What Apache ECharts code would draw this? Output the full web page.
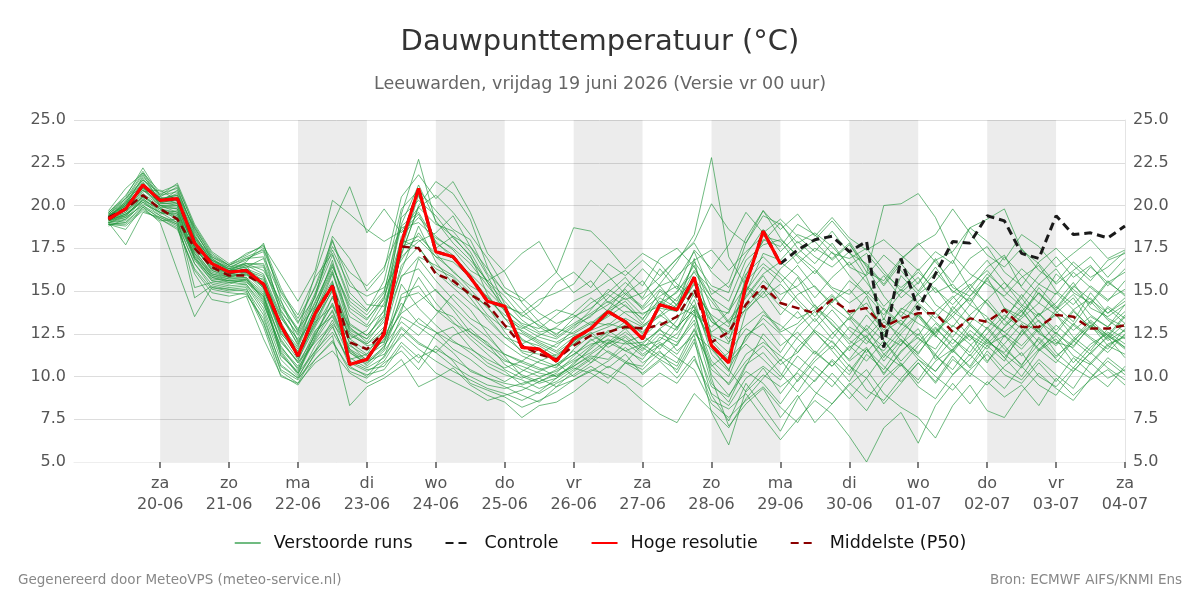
<!DOCTYPE html>
<html>
<head>
<meta charset="utf-8">
<script src="https://cdn.jsdelivr.net/npm/echarts@6/dist/echarts.min.js"></script>
<style>html,body{margin:0;padding:0;background:#fff}#c{width:1200px;height:600px}</style>
</head>
<body>
<div id="c"></div>
<script>
// Tick labels
const dayNames = ['za','zo','ma','di','wo','do','vr','za','zo','ma','di','wo','do','vr','za'];
const dateLabels = ['20-06','21-06','22-06','23-06','24-06','25-06','26-06','27-06','28-06','29-06','30-06','01-07','02-07','03-07','04-07'];

// Forecast steps: every 6 h from 19-06 06:00 (hours relative to 20-06 00:00)
const hours = [];
for (let i = 0; i < 60; i++) hours.push(-18 + 6 * i);

// Hoge resolutie (ends 29-06 00:00)
const hres = [19.2,19.8,21.2,20.3,20.4,17.8,16.6,16.1,16.2,15.4,13.0,11.2,13.7,15.3,10.7,11.0,12.5,17.8,21.0,17.3,17.0,15.8,14.4,14.1,11.7,11.6,10.9,12.2,12.8,13.8,13.2,12.2,14.2,13.9,15.8,11.8,10.8,15.4,18.5,16.6];
// Controle
const control = [19.2,19.8,21.2,20.3,20.4,17.8,16.6,16.1,16.2,15.4,13.0,11.2,13.7,15.3,10.7,11.0,12.5,17.8,21.0,17.3,17.0,15.8,14.4,14.1,11.7,11.6,10.9,12.2,12.8,13.8,13.2,12.2,14.2,13.9,15.8,11.8,10.8,15.4,18.5,16.6,17.4,18.0,18.2,17.3,17.9,11.7,16.9,13.9,16.0,17.9,17.8,19.4,19.1,17.2,16.9,19.4,18.3,18.4,18.1,18.8];
// Middelste (P50)
const p50 = [19.3,19.8,20.6,19.8,19.2,17.5,16.4,15.9,15.9,15.4,13.0,11.2,13.7,15.3,12.0,11.6,12.6,17.6,17.5,16.0,15.6,14.8,14.2,13.0,11.8,11.3,11.0,11.8,12.4,12.6,12.9,12.8,13.0,13.5,15.1,12.0,12.6,14.2,15.3,14.3,14.0,13.7,14.5,13.8,14.0,12.9,13.4,13.7,13.7,12.6,13.4,13.2,13.9,12.9,12.9,13.6,13.5,12.8,12.8,13.0];

// Verstoorde runs (ensemble members)
const m01 = [19.5,20.3,21.8,20.2,20.9,18.5,16.9,16.2,16.7,17.8,14.5,12.0,14.0,16.8,13.0,12.4,13.5,19.5,22.7,19.0,18.2,17.0,15.5,13.8,12.6,12.0,11.5,12.3,12.9,13.5,14.2,13.1,14.6,14.0,16.9,12.4,11.9,15.9,18.0,17.6,18.9,18.3,17.2,16.9,17.5,16.2,15.0,16.3,14.9,15.4,14.2,15.8,14.0,13.5,15.2,14.1,13.2,14.9,13.7,14.4];
const m02 = [19.0,17.7,19.6,19.3,18.8,16.0,14.5,14.3,14.7,12.2,10.1,9.5,11.0,12.1,10.3,9.9,10.8,11.5,10.4,11.8,10.9,9.6,9.2,8.8,8.2,8.6,9.1,9.8,10.3,10.9,11.7,10.8,11.5,10.2,12.0,9.4,8.8,10.7,11.4,10.2,9.1,10.6,9.8,8.7,9.9,8.4,9.6,10.8,9.7,11.2,10.0,11.5,10.4,9.8,11.0,10.1,9.3,10.8,9.9,10.4];
const m03 = [19.3,19.9,21.0,20.5,20.1,17.9,16.5,16.0,16.3,15.6,13.2,11.4,13.9,15.6,11.0,11.3,12.8,17.4,20.6,17.8,17.1,15.9,14.6,13.9,12.1,11.8,11.2,12.0,12.9,13.8,13.3,12.5,14.0,13.8,15.5,12.3,11.4,14.9,17.2,16.8,17.9,17.0,16.4,17.3,15.8,13.3,15.9,14.8,15.6,16.8,15.1,16.4,17.1,15.2,14.3,16.0,15.1,14.2,15.5,16.1];
const m04 = [19.1,19.5,20.2,19.6,19.0,17.0,15.8,15.5,15.4,14.2,11.8,10.4,12.5,13.8,11.4,10.8,11.6,14.8,15.3,13.9,13.1,12.6,12.0,11.0,10.4,10.0,10.3,10.9,11.4,12.2,11.5,11.0,12.3,11.8,13.6,10.9,10.0,12.4,13.1,11.8,12.6,11.4,10.6,11.7,12.4,10.9,12.1,11.2,10.3,11.6,12.4,11.8,10.9,12.7,11.5,12.2,10.8,11.9,12.5,11.7];
const m05 = [19.6,20.5,22.2,20.6,21.3,18.9,17.3,16.6,17.1,17.7,15.2,13.2,14.6,18.2,16.9,15.0,16.2,20.5,21.8,20.4,21.4,19.6,17.2,16.1,14.3,13.2,12.4,13.4,14.3,14.9,15.8,14.5,15.3,15.7,17.3,14.8,15.5,18.1,19.7,18.6,19.5,18.2,19.3,18.1,17.4,18.0,17.1,16.2,17.3,16.6,18.7,17.9,16.8,18.3,17.6,16.4,17.2,18.0,16.9,17.4];
const m06 = [18.9,18.6,19.9,19.0,16.2,13.5,15.2,15.0,15.1,13.6,10.6,9.9,11.8,13.0,10.6,10.0,11.2,13.5,12.9,12.2,11.4,10.3,9.9,9.4,8.9,8.5,9.4,10.3,11.0,11.9,12.4,11.6,12.8,11.5,12.4,8.9,7.4,9.6,8.2,6.8,8.7,9.8,10.9,9.7,11.3,10.4,11.9,12.8,11.0,12.2,11.4,12.9,11.8,10.6,12.3,11.2,12.0,13.2,12.1,12.7];
const m07 = [19.4,20.1,21.4,20.0,19.8,17.6,16.8,16.4,16.6,16.2,14.4,12.6,16.0,18.9,21.1,18.4,19.8,18.4,19.5,17.5,18.2,17.6,16.3,14.9,14.4,15.2,16.1,14.9,15.6,14.3,15.1,13.9,14.7,15.3,14.0,12.6,13.3,14.6,15.9,14.4,15.8,14.1,13.3,12.2,13.6,12.4,14.0,13.5,12.3,14.1,13.0,12.1,13.4,14.6,13.2,12.5,13.8,12.9,14.0,13.1];
const m08 = [19.2,19.6,20.8,20.9,20.3,18.2,16.7,16.3,16.5,15.1,12.4,11.0,12.9,14.6,12.9,12.0,13.4,16.2,18.8,16.7,15.4,14.8,14.1,12.6,11.4,11.0,10.6,11.3,12.1,12.6,13.0,12.3,13.2,12.7,14.5,11.3,10.3,13.8,15.0,13.6,14.8,15.3,14.1,13.3,14.7,12.4,11.8,13.6,12.6,13.9,15.1,14.3,13.0,14.1,12.8,13.7,14.6,13.1,12.4,13.6];
const m09 = [18.8,19.2,20.1,19.6,19.3,16.8,15.6,15.5,15.6,14.6,12.1,10.8,12.0,13.1,11.8,11.2,11.9,15.4,14.0,13.0,12.1,11.4,10.6,10.1,9.8,9.3,9.7,10.4,11.1,10.5,11.3,10.1,10.9,9.9,11.2,8.6,8.1,9.0,7.6,6.3,7.5,8.6,7.8,6.5,5.0,7.0,7.9,6.1,8.3,9.6,8.4,9.7,8.8,9.5,8.3,9.9,8.9,9.8,10.4,9.5];
const m10 = [19.7,21.0,21.9,20.4,20.6,18.7,17.0,16.5,17.2,17.6,16.0,14.4,16.2,20.3,19.5,18.6,17.9,18.5,19.9,20.6,19.6,18.3,16.9,15.2,14.6,13.7,13.1,13.5,14.0,14.8,14.1,13.4,14.3,14.9,16.5,14.0,13.7,16.3,17.9,19.0,17.5,16.6,17.8,16.4,15.9,17.1,16.2,15.0,16.4,14.9,15.7,16.8,15.5,14.6,15.9,17.0,15.8,16.5,15.3,16.3];
const m11 = [19.0,19.4,20.3,19.5,19.7,17.3,16.1,15.8,16.0,15.0,12.8,11.6,13.2,14.1,12.5,11.8,12.0,13.8,16.9,15.6,14.5,13.4,12.8,11.9,11.2,10.8,10.5,11.6,12.4,11.9,12.6,11.8,12.1,13.3,15.1,13.5,12.0,13.0,13.8,12.6,13.1,14.2,13.0,12.1,11.4,12.6,13.3,12.2,11.6,13.0,12.1,13.4,12.6,11.8,12.9,13.6,12.3,11.5,12.8,12.2];
const m12 = [19.3,20.0,21.0,20.0,19.6,17.7,16.3,16.0,15.9,15.7,13.4,12.2,14.4,16.5,14.0,13.3,14.7,18.0,17.5,16.3,15.8,14.6,13.3,12.3,11.9,12.4,12.9,13.7,14.6,13.8,14.4,13.3,15.0,14.2,16.2,15.1,14.4,16.8,17.7,18.0,17.1,16.3,15.2,14.8,16.0,20.0,20.1,20.7,19.3,17.1,16.0,15.4,14.7,15.8,16.5,15.0,14.2,15.3,14.5,15.1];
const m13 = [19.5,19.7,20.5,19.9,19.1,17.2,15.9,15.6,15.7,14.8,11.2,10.3,12.3,14.7,11.9,10.9,11.3,12.3,13.4,12.6,12.0,11.6,11.0,10.5,10.9,11.6,10.8,10.0,10.6,9.9,10.8,10.2,11.0,10.4,12.2,7.9,6.0,9.2,10.5,9.0,10.3,11.5,10.6,11.8,10.9,12.1,10.7,9.8,11.3,12.7,11.9,10.8,12.4,11.6,12.8,11.4,10.5,11.7,12.6,11.9];
const m14 = [19.2,19.9,21.3,20.1,20.2,17.9,16.6,16.2,16.4,16.9,14.1,12.7,14.9,17.4,15.3,14.7,15.2,16.8,18.4,17.0,16.2,15.1,14.0,13.0,12.7,12.1,11.7,12.8,13.6,14.2,14.9,14.1,15.4,16.7,18.3,22.8,17.0,15.3,13.9,12.7,13.8,12.6,11.6,12.9,12.3,11.1,12.5,13.6,12.4,11.5,13.0,12.0,11.4,12.6,13.7,12.5,11.8,12.9,12.2,13.1];
const m15 = [18.9,19.0,20.0,19.4,18.9,14.6,15.3,15.1,15.0,12.9,10.0,9.6,10.8,11.5,10.2,9.6,10.1,11.0,9.4,9.9,10.5,9.5,8.9,8.5,7.6,8.3,8.5,9.1,9.9,10.6,10.1,9.4,10.2,9.6,11.0,9.0,8.3,9.9,10.6,9.8,11.2,10.3,9.4,10.7,9.2,8.6,9.9,11.0,10.0,9.2,10.4,11.3,10.1,9.6,10.8,9.7,11.1,10.2,9.4,10.6];
const m16 = [19.4,20.2,21.6,20.3,20.7,18.3,16.7,16.1,16.5,16.0,13.6,12.1,13.5,16.0,13.5,12.9,13.8,17.2,19.9,18.9,18.5,17.3,15.5,14.4,13.3,12.6,12.8,12.5,13.1,13.9,14.6,13.6,14.4,13.9,15.4,13.2,12.6,15.0,16.4,15.5,16.5,15.2,14.3,15.6,14.8,13.6,14.9,15.8,14.2,13.5,14.7,15.6,14.6,13.8,14.9,14.0,15.3,14.5,13.7,14.6];
const m17 = [19.0,19.3,20.0,19.2,18.7,16.2,14.9,14.7,14.9,13.2,10.4,9.8,11.3,12.4,8.3,9.4,9.9,10.6,11.3,10.2,9.7,9.2,8.6,8.9,9.2,9.7,10.1,10.6,11.2,11.0,12.0,11.2,11.8,12.5,13.8,9.9,7.1,8.4,9.3,7.6,8.9,7.3,8.4,9.6,8.7,9.9,10.8,9.6,10.9,11.6,10.5,11.8,12.4,11.2,12.2,11.0,10.3,11.4,12.3,11.1];
const m18 = [19.3,20.1,21.1,20.2,20.0,17.6,16.2,15.9,16.0,15.5,12.7,11.3,13.0,15.1,12.2,12.7,14.3,17.1,20.0,21.4,20.7,19.2,16.4,14.2,13.6,13.0,12.5,13.1,13.7,14.4,13.7,13.0,13.6,14.6,15.7,14.4,13.1,14.7,16.0,16.7,15.9,14.6,15.8,16.7,15.5,14.1,15.1,14.3,13.4,14.6,15.4,14.2,13.3,14.8,13.6,14.3,15.5,14.0,13.5,14.2];
const m19 = [19.1,19.4,20.4,19.7,19.4,17.1,15.9,15.7,15.8,14.4,11.7,10.6,12.7,13.5,11.4,10.7,11.8,13.2,12.4,13.6,14.8,13.9,12.5,11.2,10.0,9.6,9.9,10.8,11.6,12.5,13.2,12.6,13.6,12.9,13.9,10.1,8.9,10.3,9.6,8.4,9.8,11.1,12.1,10.9,11.7,10.1,11.5,12.3,11.2,10.4,11.8,12.8,11.6,10.7,11.9,13.0,12.1,11.3,12.4,11.7];
const m20 = [19.5,20.4,21.5,20.7,21.0,18.4,17.0,16.4,16.8,17.5,15.0,13.6,15.8,17.2,14.6,13.8,15.6,19.8,20.9,19.7,18.6,18.0,16.0,15.0,13.9,12.9,12.3,13.0,13.5,14.6,15.5,14.6,16.3,15.1,17.4,16.3,17.7,19.6,18.4,19.2,18.2,17.3,18.5,17.2,16.6,15.4,16.8,17.8,16.7,15.5,16.9,17.6,16.1,15.3,16.7,17.5,16.5,15.6,16.8,17.2];
const m21 = [18.9,18.9,19.8,19.1,19.2,15.2,15.5,15.3,15.4,14.0,11.3,10.2,11.5,12.6,10.9,10.4,10.6,12.0,11.1,11.6,11.0,10.4,9.9,9.6,9.4,9.0,9.6,10.1,10.8,11.5,10.9,10.4,11.4,10.8,12.8,10.4,9.6,11.3,12.0,11.2,10.5,9.7,11.0,10.1,11.6,10.6,9.7,10.8,9.6,11.0,10.2,9.5,10.6,11.4,10.0,9.4,10.5,9.9,11.1,10.3];
const m22 = [19.6,20.6,22.0,20.5,21.1,18.8,17.2,16.5,16.9,17.0,14.7,13.1,15.3,18.0,14.9,13.9,15.0,18.9,21.2,19.1,17.8,16.8,15.6,14.7,13.5,14.2,15.5,16.1,15.2,16.6,15.9,16.8,15.9,16.9,17.8,16.1,15.2,17.1,18.6,17.3,18.3,17.9,16.8,17.7,16.5,15.3,16.6,15.4,16.9,15.2,14.7,16.0,15.1,16.3,15.4,14.8,16.1,15.2,14.4,15.6];
const m23 = [19.2,19.5,20.6,19.8,19.5,17.4,16.0,15.8,15.8,14.9,12.0,10.9,13.3,15.0,12.2,11.5,12.3,14.3,13.1,12.6,11.6,11.0,10.2,9.7,10.3,10.9,11.3,11.9,12.6,11.7,12.3,11.3,12.0,11.3,12.7,10.6,11.4,12.8,12.2,10.9,12.3,13.4,12.2,13.5,12.6,11.7,13.0,14.2,13.2,12.3,13.6,14.5,13.3,12.4,13.7,12.7,13.9,14.6,13.4,12.9];
const m24 = [19.4,20.0,21.2,20.3,20.4,18.0,16.6,16.1,16.3,15.9,13.0,11.7,14.1,16.2,13.1,12.4,13.6,18.2,19.3,18.2,17.4,16.2,15.6,16.2,17.2,17.9,16.1,18.7,18.5,17.5,16.3,17.2,16.6,15.4,14.7,13.2,12.5,14.3,15.6,14.8,15.3,16.2,15.1,14.3,15.0,13.9,13.0,14.4,15.2,13.8,13.1,14.5,15.5,14.2,13.5,14.9,13.9,12.8,14.1,13.4];
const m25 = [19.0,19.1,20.2,19.4,19.0,16.6,15.4,15.2,15.3,13.8,11.0,10.0,11.5,13.3,11.1,10.5,11.1,12.8,11.9,11.4,10.6,10.0,9.5,9.3,9.6,9.9,9.4,9.8,10.4,10.1,9.5,8.6,7.8,7.3,9.0,8.0,7.0,8.7,9.9,11.0,9.7,10.9,11.8,10.6,9.9,11.3,12.2,11.0,10.3,11.5,10.6,12.1,11.3,10.5,11.6,12.4,11.2,10.7,11.8,11.3];
const m26 = [19.3,19.8,20.9,20.0,19.9,17.5,16.4,16.0,16.1,15.3,12.9,11.1,13.6,15.2,12.4,11.9,12.9,16.5,17.6,16.1,15.2,14.3,13.5,12.3,11.5,11.3,11.9,12.4,12.7,13.1,12.8,12.9,13.5,14.2,15.8,13.4,12.2,14.0,15.2,14.1,13.4,13.9,14.8,13.6,14.3,12.9,13.8,13.1,12.5,13.7,14.6,13.2,12.6,13.4,14.3,13.6,12.7,13.5,12.9,13.8];
const m27 = [19.5,20.2,21.5,20.4,20.5,18.1,16.8,16.2,16.6,16.5,13.9,12.4,14.3,16.6,13.8,13.0,14.6,17.6,18.0,17.0,16.7,15.8,14.5,13.6,12.9,12.3,12.0,12.6,13.2,13.0,13.8,13.7,14.1,15.0,16.1,14.6,13.9,16.0,17.0,16.0,15.1,14.0,13.1,11.9,12.8,11.3,10.6,11.8,12.9,11.7,12.5,10.9,11.9,13.1,12.0,11.1,12.2,13.3,12.4,11.6];
const m28 = [19.1,19.5,20.3,19.8,19.3,17.0,15.7,15.6,15.5,14.7,11.6,10.5,12.1,13.6,11.6,11.0,12.2,13.7,14.4,15.1,13.9,12.6,11.8,11.3,10.8,10.4,10.7,11.3,11.9,12.1,11.9,12.0,12.7,12.2,14.2,11.9,10.8,11.9,11.0,10.0,11.7,12.7,12.0,11.0,12.3,13.4,12.1,11.4,12.6,13.5,12.3,11.6,12.9,13.9,12.5,11.9,13.1,12.3,11.6,12.8];
const m29 = [19.4,20.1,21.0,20.1,20.1,17.8,16.5,16.0,16.2,15.8,13.5,11.9,13.8,16.1,12.8,12.2,13.9,17.8,18.2,17.2,16.1,15.3,14.7,13.4,12.2,11.6,11.1,11.9,12.8,13.6,14.8,14.0,15.1,14.4,16.7,15.3,14.9,17.8,19.7,18.1,17.0,16.0,17.3,15.9,14.8,15.9,14.6,15.5,16.8,17.3,18.7,19.2,19.8,17.4,16.6,15.4,16.2,17.0,15.8,16.9];
const m30 = [18.9,18.8,19.7,19.2,18.6,16.3,15.1,14.9,14.8,13.4,10.7,9.9,11.0,12.0,10.5,10.1,10.4,11.8,10.8,12.5,12.9,11.7,10.8,10.3,9.5,9.9,10.4,11.0,11.8,12.4,12.1,11.5,12.5,12.0,13.3,10.7,9.5,10.9,11.8,10.7,11.4,12.6,11.5,10.3,11.6,10.2,11.4,12.5,11.3,10.1,11.0,12.2,11.1,10.0,11.5,12.6,11.6,10.8,11.9,12.3];
const m31 = [19.2,20.0,21.7,20.6,20.8,18.6,16.8,16.3,16.9,17.3,13.7,11.8,14.8,17.9,15.6,14.2,14.1,17.0,17.9,18.4,19.4,17.6,15.9,13.9,13.1,12.8,13.6,14.4,14.9,15.6,16.2,15.3,16.9,17.5,16.4,14.6,13.2,13.9,14.8,16.3,17.2,18.0,19.1,17.9,16.4,14.7,13.5,14.9,16.1,15.0,14.4,15.7,17.0,15.9,14.8,13.9,15.2,16.4,15.5,14.8];
const m32 = [19.1,19.3,20.6,19.9,19.8,16.9,15.6,15.4,15.7,14.5,11.4,10.1,12.6,14.2,11.6,10.6,11.5,12.9,12.0,11.4,12.4,12.8,11.9,10.7,10.1,9.7,10.2,11.2,12.2,11.4,10.8,11.9,11.2,10.6,12.5,11.6,10.4,12.3,13.4,12.5,11.4,12.8,13.9,12.7,11.9,13.2,12.4,11.3,12.8,11.9,13.1,12.2,11.1,12.4,13.3,12.0,11.7,13.0,12.3,13.5];
const m33 = [19.3,19.7,20.9,20.2,20.3,17.6,16.2,15.8,16.1,15.2,12.6,11.2,13.1,15.4,12.6,11.9,12.6,15.9,16.3,15.0,14.1,13.1,12.3,11.3,10.9,10.5,10.0,10.6,11.3,12.0,11.5,11.9,12.8,13.5,14.1,11.7,10.4,9.1,10.1,9.4,10.2,9.1,8.4,9.5,10.4,9.0,8.2,7.6,6.4,8.3,9.5,8.0,7.6,9.1,10.2,9.3,8.6,9.9,10.9,10.1];
const m34 = [19.6,20.4,21.9,20.8,21.2,18.7,17.1,16.5,17.0,17.4,14.9,13.4,15.2,17.6,16.1,15.3,16.4,18.7,19.0,18.1,17.5,16.6,15.3,14.1,13.7,14.5,14.9,15.4,16.8,15.9,14.8,15.6,14.2,15.9,16.8,17.4,16.2,17.3,18.2,17.9,16.6,17.5,16.9,17.8,16.1,15.6,16.9,17.7,18.3,19.8,18.4,17.1,16.4,17.5,16.2,15.5,16.7,15.8,16.4,17.3];
const m35 = [19.2,19.6,20.7,20.0,20.0,17.5,16.3,15.9,16.0,15.2,12.5,11.5,13.4,15.5,12.7,12.2,13.2,15.8,17.0,16.5,15.9,14.9,13.6,12.8,12.5,11.9,11.4,12.1,12.5,12.9,13.4,12.9,13.9,12.8,14.9,13.6,12.9,15.6,16.6,15.8,14.5,13.5,14.7,13.6,12.7,14.0,13.1,12.4,13.8,14.7,13.5,12.8,14.0,13.2,12.6,13.9,14.8,13.6,12.9,14.2];
const m36 = [18.9,19.0,19.9,19.3,18.9,16.6,15.2,15.1,15.2,13.1,10.3,9.6,11.4,12.9,10.8,10.3,10.9,12.5,11.6,10.9,10.3,9.8,9.3,9.0,8.6,9.1,9.9,10.5,10.2,9.6,10.8,10.6,11.9,11.1,10.4,8.4,7.6,8.6,9.4,8.2,7.3,8.9,10.2,9.1,8.0,9.6,10.7,9.4,8.7,10.1,11.3,10.2,9.3,10.6,9.5,8.9,10.3,11.4,10.5,9.8];
const m37 = [19.4,20.0,21.1,20.2,20.3,18.1,16.6,16.2,16.4,16.4,13.8,12.5,14.7,17.1,14.4,13.6,14.9,19.3,20.3,19.4,18.1,17.1,14.8,13.4,12.8,13.3,13.9,13.6,13.0,13.9,15.2,16.3,15.3,14.1,13.6,12.9,13.8,15.3,14.6,15.4,14.3,13.2,14.4,15.1,13.9,12.7,13.9,14.8,13.7,12.9,14.2,13.5,12.3,13.6,14.9,13.8,13.0,14.4,13.3,12.6];
const m38 = [19.0,19.2,20.4,19.6,19.5,16.9,15.8,15.6,15.6,14.3,11.5,10.2,12.2,13.9,11.5,10.9,11.7,14.0,15.8,14.3,13.2,12.2,11.3,10.4,9.9,10.3,10.7,11.5,10.8,12.0,12.8,11.7,11.0,11.9,13.1,9.6,8.5,10.6,12.5,11.4,12.9,13.8,12.6,11.5,13.0,12.1,10.9,12.0,13.1,12.2,11.2,12.5,13.6,12.8,11.6,10.8,12.1,13.0,11.8,12.4];
const m39 = [19.3,20.2,21.3,20.4,20.6,18.2,16.9,16.3,16.6,16.6,14.2,12.8,14.1,16.4,14.2,13.4,14.5,18.8,19.6,17.9,16.9,16.0,15.0,14.0,13.0,12.5,12.2,12.9,13.9,15.1,14.5,14.9,15.8,16.9,17.9,20.1,18.6,17.8,19.4,18.9,17.8,18.4,17.6,16.5,17.2,16.0,15.2,16.1,15.1,14.2,15.3,16.2,15.0,14.1,15.4,16.3,14.9,14.3,15.6,14.7];
const m40 = [19.2,19.4,20.5,19.8,19.6,17.2,16.0,15.7,15.7,14.7,12.2,10.8,12.4,14.3,12.0,11.3,12.1,14.6,14.9,13.9,13.5,12.4,11.6,10.9,10.6,10.2,10.0,10.7,11.7,12.7,12.0,12.4,11.6,12.9,13.9,12.1,11.0,12.1,13.6,13.0,12.2,11.3,12.5,13.4,12.1,11.5,12.7,13.7,12.4,11.4,12.7,11.9,12.9,13.8,12.6,11.8,13.0,12.2,11.4,12.5];
const members = [m01,m02,m03,m04,m05,m06,m07,m08,m09,m10,m11,m12,m13,m14,m15,m16,m17,m18,m19,m20,
                 m21,m22,m23,m24,m25,m26,m27,m28,m29,m30,m31,m32,m33,m34,m35,m36,m37,m38,m39,m40];

// Shaded day bands (start hours, each 24 h long)
const bandStarts = [0,48,96,144,192,240,288];

const FONT = 'DejaVu Sans';
const pairs = arr => arr.map((v, i) => [hours[i], v]);
const tickHours = dateLabels.map((d, i) => i * 24);
const ENS = '#24963e';

const series = [];
series.push({
  name: '_bands', type: 'line', data: [], silent: true, z: 0,
  markArea: {
    silent: true,
    itemStyle: { color: 'rgba(0,0,0,0.075)' },
    data: bandStarts.map(s => [{ xAxis: s }, { xAxis: s + 24 }])
  }
});
members.forEach(m => series.push({
  name: 'Verstoorde runs', type: 'line', data: pairs(m), symbol: 'none', z: 2,
  lineStyle: { color: ENS, width: 1, opacity: 0.65 },
  itemStyle: { color: ENS }, emphasis: { disabled: true }, animation: false
}));
series.push({
  name: 'Middelste (P50)', type: 'line', data: pairs(p50), symbol: 'none', z: 3,
  lineStyle: { color: '#8b0000', width: 2.5, type: [8, 5] },
  itemStyle: { color: '#8b0000' }, animation: false
});
series.push({
  name: 'Controle', type: 'line', data: pairs(control), symbol: 'none', z: 4,
  lineStyle: { color: '#1a1a1a', width: 3, type: [8, 5] },
  itemStyle: { color: '#1a1a1a' }, animation: false
});
series.push({
  name: 'Hoge resolutie', type: 'line', data: pairs(hres), symbol: 'none', z: 5,
  lineStyle: { color: '#ff0000', width: 3.2 },
  itemStyle: { color: '#ff0000' }, animation: false
});

const chart = echarts.init(document.getElementById('c'), null, { renderer: 'canvas' });
chart.setOption({
  animation: false,
  backgroundColor: '#fff',
  textStyle: { fontFamily: FONT },
  title: [
    { text: 'Dauwpunttemperatuur (°C)', left: 'center', top: 23,
      textStyle: { fontFamily: FONT, fontSize: 29, fontWeight: 'normal', color: '#333' } },
    { text: 'Leeuwarden, vrijdag 19 juni 2026 (Versie vr 00 uur)', left: 'center', top: 70,
      textStyle: { fontFamily: FONT, fontSize: 17.5, fontWeight: 'normal', color: '#666' } },
    { text: 'Gegenereerd door MeteoVPS (meteo-service.nl)', left: 13, top: 568,
      textStyle: { fontFamily: FONT, fontSize: 13.5, fontWeight: 'normal', color: '#888' } },
    { text: 'Bron: ECMWF AIFS/KNMI Ens', right: 13, top: 568,
      textStyle: { fontFamily: FONT, fontSize: 13.5, fontWeight: 'normal', color: '#888' } }
  ],
  legend: {
    data: ['Verstoorde runs', 'Controle', 'Hoge resolutie', 'Middelste (P50)'],
    left: 'center', top: 529, itemWidth: 26, itemHeight: 14, itemGap: 32,
    itemStyle: { opacity: 0 },
    textStyle: { fontFamily: FONT, fontSize: 17.5, color: '#111', padding: [0, 0, 0, 8] }
  },
  grid: { left: 74, right: 75, top: 120, bottom: 138, containLabel: false },
  xAxis: {
    type: 'value', min: -30, max: 336,
    axisLine: { show: true, lineStyle: { color: '#eeeeee' } },
    axisTick: { show: true, customValues: tickHours, length: 6, lineStyle: { color: '#555', width: 1.5 } },
    axisLabel: {
      customValues: tickHours, color: '#555', fontSize: 16, fontFamily: FONT, lineHeight: 21, margin: 11,
      formatter: v => { const i = Math.round(v / 24); return dayNames[i] + '\n' + dateLabels[i]; }
    },
    splitLine: { show: false }
  },
  yAxis: [
    { type: 'value', min: 5, max: 25, interval: 2.5, position: 'left',
      axisLine: { show: false }, axisTick: { show: false },
      axisLabel: { color: '#555', fontSize: 16, fontFamily: FONT, margin: 8, formatter: v => v.toFixed(1) },
      splitLine: { show: true, lineStyle: { color: '#dddddd', width: 1 } } },
    { type: 'value', min: 5, max: 25, interval: 2.5, position: 'right',
      axisLine: { show: true, lineStyle: { color: '#e4e4e4' } }, axisTick: { show: false },
      axisLabel: { color: '#555', fontSize: 16, fontFamily: FONT, margin: 8, formatter: v => v.toFixed(1) },
      splitLine: { show: false } }
  ],
  series: series
});
</script>
</body>
</html>
